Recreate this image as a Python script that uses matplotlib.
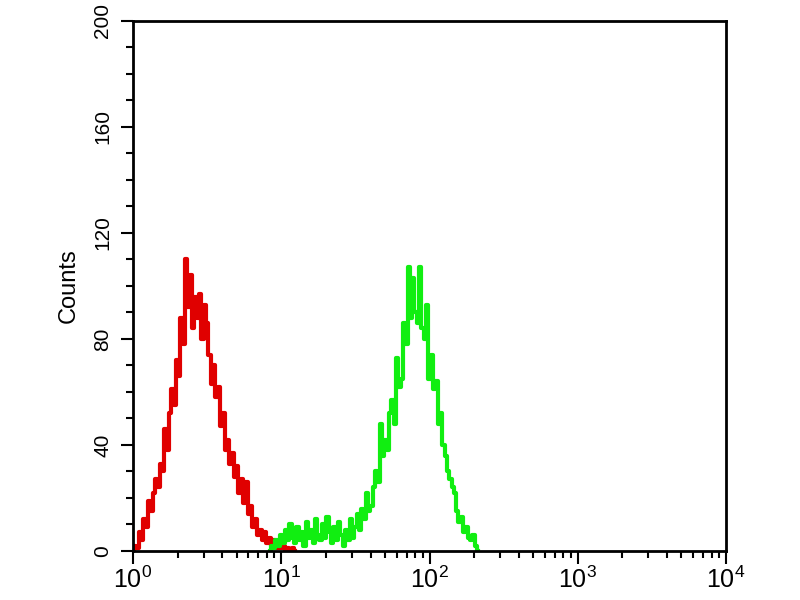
import numpy as np
import matplotlib
matplotlib.use("Agg")
import matplotlib.pyplot as plt
from matplotlib.ticker import LogLocator, MultipleLocator, FixedLocator

plt.rcParams['font.family'] = ['Liberation Sans', 'DejaVu Sans']
plt.rcParams['mathtext.fontset'] = 'custom'
plt.rcParams['mathtext.rm'] = 'Liberation Sans'
plt.rcParams['mathtext.default'] = 'regular'

# 1024 channels over 4 decades, every 4th channel
chan_per_decade = 256
step = 4

# red (isotype control)
red_start = 0
red_counts = [0, 2, 1, 7, 4, 12, 9, 19, 15, 22, 27, 24, 33, 30, 46, 38, 52, 61, 55, 72,
              66, 88, 78, 110, 92, 104, 84, 96, 88, 97, 80, 93, 86, 74, 63, 70, 58, 62, 47, 52,
              38, 42, 33, 37, 28, 32, 22, 27, 18, 26, 14, 17, 9, 12, 6, 8, 4, 7, 3, 5,
              2, 4, 1, 3, 1, 2, 0, 1, 0, 1, 0]

# green (stained sample)
green_start = 236
green_counts = [0, 2, 1, 4, 2, 6, 3, 8, 4, 10, 5, 3, 9, 4, 7, 2, 11, 5, 8, 3,
                12, 6, 4, 10, 5, 13, 7, 3, 9, 4, 11, 6, 2, 8, 4, 12, 5, 9, 14, 8,
                16, 12, 22, 15, 17, 24, 30, 26, 48, 36, 42, 38, 52, 57, 48, 73, 62, 65, 86, 78,
                107, 88, 103, 90, 86, 107, 84, 80, 93, 65, 74, 61, 64, 48, 52, 40, 36, 30, 27, 24,
                22, 15, 11, 13, 7, 9, 5, 4, 6, 2, 0]

red_ch = red_start + step * np.arange(len(red_counts))
green_ch = green_start + step * np.arange(len(green_counts))
red_x = 10 ** (red_ch / chan_per_decade)
green_x = 10 ** (green_ch / chan_per_decade)

fig = plt.figure(figsize=(8, 6), dpi=100)
ax = fig.add_axes([0.16625, 0.0817, 0.74125, 0.8833])

ax.plot(red_x, red_counts, color='#e00000', lw=3, drawstyle='steps-mid')
ax.plot(green_x, green_counts, color='#11ee11', lw=3, drawstyle='steps-mid')

ax.set_xscale('log')
ax.set_xlim(1, 1e4)
ax.set_ylim(0, 200)

ax.yaxis.set_major_locator(MultipleLocator(40))
ax.yaxis.set_minor_locator(MultipleLocator(10))
ax.xaxis.set_major_locator(FixedLocator([1, 10, 100, 1000, 10000]))
ax.xaxis.set_minor_locator(LogLocator(base=10, subs=np.arange(2, 10), numticks=20))
ax.set_xticklabels(['$10^{0}$', '$10^{1}$', '$10^{2}$', '$10^{3}$', '$10^{4}$'])

ax.tick_params(axis='both', which='major', direction='out', length=9, width=1.5,
               color='black')
ax.tick_params(axis='both', which='minor', direction='out', length=5, width=1.5)
ax.tick_params(axis='y', pad=6, labelsize=15)
ax.tick_params(axis='x', pad=2, labelsize=18)
for lab in ax.get_yticklabels():
    lab.set_rotation(90)
    lab.set_va('center')

for sp in ax.spines.values():
    sp.set_linewidth(2)

ax.set_ylabel('Counts', fontsize=17, labelpad=10)

fig.savefig('out.png', dpi=100)
